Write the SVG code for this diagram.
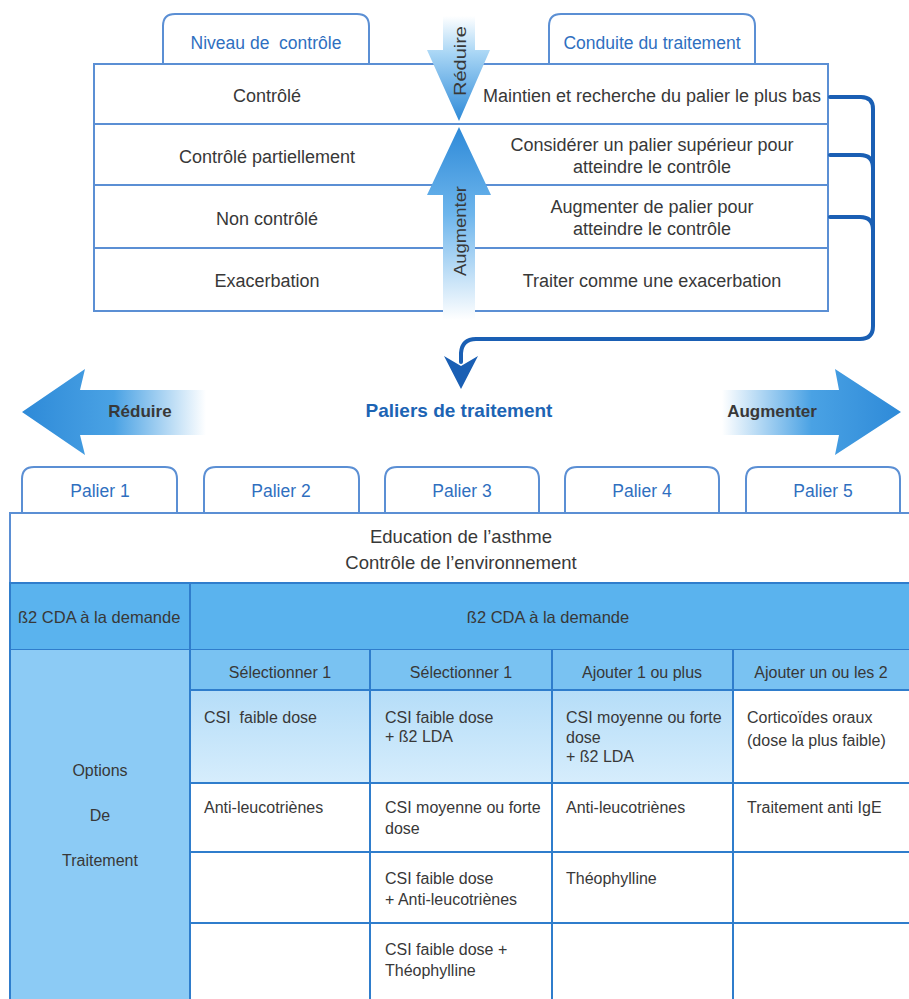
<svg xmlns="http://www.w3.org/2000/svg" width="909" height="999" viewBox="0 0 909 999">
<defs>
<style>
text{font-family:"Liberation Sans",Arial,sans-serif;fill:#383838;white-space:pre}
.t{font-size:18px}
.c{text-anchor:middle}
.tab{fill:#fff;stroke:#5b8fd4;stroke-width:2}
.tabt{font-size:17.5px;fill:#2f6fbf;text-anchor:middle}
.grid{stroke:#5b8fd4;stroke-width:2;fill:none}
.g2{stroke:#2f7dcc;stroke-width:2;fill:none}
.tb{font-size:16px}
.conn{stroke:#1a5fb4;stroke-width:4;fill:none;stroke-linecap:round}
.bold{font-weight:bold;font-size:17px}
</style>
<linearGradient id="gDown" x1="0" y1="0" x2="0" y2="1"><stop offset="0" stop-color="#ffffff"/><stop offset="0.35" stop-color="#a9d6f5"/><stop offset="1" stop-color="#2e8ad8"/></linearGradient>
<linearGradient id="gUp" x1="0" y1="0" x2="0" y2="1"><stop offset="0" stop-color="#2e8ad8"/><stop offset="0.45" stop-color="#6db5ec"/><stop offset="1" stop-color="#ffffff"/></linearGradient>
<linearGradient id="gLeft" x1="0" y1="0" x2="1" y2="0"><stop offset="0" stop-color="#2e8ad8"/><stop offset="0.5" stop-color="#4aa2e4"/><stop offset="1" stop-color="#ffffff"/></linearGradient>
<linearGradient id="gRight" x1="0" y1="0" x2="1" y2="0"><stop offset="0" stop-color="#ffffff"/><stop offset="0.5" stop-color="#4aa2e4"/><stop offset="1" stop-color="#2e8ad8"/></linearGradient>
<linearGradient id="gRow" x1="0" y1="0" x2="0" y2="1"><stop offset="0" stop-color="#b5ddf8"/><stop offset="1" stop-color="#d6edfc"/></linearGradient>
</defs>
<rect width="909" height="999" fill="#fff"/>

<!-- top table -->
<g id="tab-niveau"><path class="tab" d="M163 64 V26 Q163 14 175 14 H357 Q369 14 369 26 V64"/><text class="tabt" x="266" y="49">Niveau de  contrôle</text></g>
<g id="tab-conduite"><path class="tab" d="M549 64 V26 Q549 14 561 14 H743 Q755 14 755 26 V64"/><text class="tabt" x="652" y="49">Conduite du traitement</text></g>
<g id="top-table">
<rect class="grid" x="94" y="64" width="734" height="247" style="fill:#fff"/>
<line class="grid" x1="94" y1="124" x2="828" y2="124"/>
<line class="grid" x1="94" y1="185" x2="828" y2="185"/>
<line class="grid" x1="94" y1="248" x2="828" y2="248"/>
</g>
<g id="row-controle"><text class="t c" x="267" y="102">Contrôlé</text><text class="t c" x="652" y="102">Maintien et recherche du palier le plus bas</text></g>
<g id="row-partiel"><text class="t c" x="267" y="163">Contrôlé partiellement</text><text class="t c" x="652" y="151">Considérer un palier supérieur pour</text><text class="t c" x="652" y="173">atteindre le contrôle</text></g>
<g id="row-non"><text class="t c" x="267" y="225">Non contrôlé</text><text class="t c" x="652" y="213">Augmenter de palier pour</text><text class="t c" x="652" y="235">atteindre le contrôle</text></g>
<g id="row-exac"><text class="t c" x="267" y="287">Exacerbation</text><text class="t c" x="652" y="287">Traiter comme une exacerbation</text></g>

<g id="arrow-reduire"><polygon points="443,16 475,16 475,50 490,50 459,121 427,50 443,50" fill="url(#gDown)"/><text class="c" transform="translate(466,61) rotate(-90)" font-size="17" textLength="70" lengthAdjust="spacingAndGlyphs">Réduire</text></g>
<g id="arrow-augmenter"><polygon points="459,127 491,195 475,195 475,320 443,320 443,195 427,195" fill="url(#gUp)"/><text class="c" transform="translate(466,231) rotate(-90)" font-size="17" textLength="90" lengthAdjust="spacingAndGlyphs">Augmenter</text></g>

<!-- connectors -->
<g id="connectors">
<path class="conn" d="M830 97 H861 Q873 97 873 109 V326 Q873 339 860 339 H476 Q462 339 461 353 V362"/>
<path class="conn" d="M830 155 H860 Q873 155 873 168"/>
<path class="conn" d="M830 217 H860 Q873 217 873 230"/>
<polygon points="444,356 461,389 478,356 461,366" fill="#1a5fb4"/>
</g>

<!-- big arrows -->
<g id="big-reduire"><polygon points="22,412 85,369 80,390 206,390 206,435 80,435 85,455" fill="url(#gLeft)"/><text class="bold c" x="140" y="417">Réduire</text></g>
<g id="title"><text class="bold c" x="459" y="417" style="fill:#1c64b4;font-size:19px">Paliers de traitement</text></g>
<g id="big-augmenter"><polygon points="722,390 839,390 835,369 901,412 835,455 839,435 722,435" fill="url(#gRight)"/><text class="bold c" x="772" y="417">Augmenter</text></g>

<!-- palier tabs -->
<g id="palier1"><path class="tab" d="M22 513 V479 Q22 467 34 467 H165 Q177 467 177 479 V513"/><text class="tabt" x="100" y="497">Palier 1</text></g>
<g id="palier2"><path class="tab" d="M204 513 V479 Q204 467 216 467 H347 Q359 467 359 479 V513"/><text class="tabt" x="281" y="497">Palier 2</text></g>
<g id="palier3"><path class="tab" d="M385 513 V479 Q385 467 397 467 H527 Q539 467 539 479 V513"/><text class="tabt" x="462" y="497">Palier 3</text></g>
<g id="palier4"><path class="tab" d="M565 513 V479 Q565 467 577 467 H707 Q719 467 719 479 V513"/><text class="tabt" x="642" y="497">Palier 4</text></g>
<g id="palier5"><path class="tab" d="M746 513 V479 Q746 467 758 467 H888 Q900 467 900 479 V513"/><text class="tabt" x="823" y="497">Palier 5</text></g>

<!-- lower table -->
<g id="education"><rect x="10" y="513" width="902" height="70" class="grid" style="fill:#fff"/><text class="t c" x="461" y="543" style="font-size:18.5px">Education de l’asthme</text><text class="t c" x="461" y="569" style="font-size:18.5px">Contrôle de l’environnement</text></g>
<g id="b2-row"><rect x="10" y="583" width="902" height="67" class="g2" style="fill:#5ab3ee"/><line class="g2" x1="190" y1="583" x2="190" y2="650"/><text class="tb" x="18" y="623" style="font-size:16.5px">ß2 CDA à la demande</text><text class="tb c" x="548" y="623" style="font-size:16.5px">ß2 CDA à la demande</text></g>
<g id="options">
<rect x="10" y="650" width="180" height="352" fill="#8ccbf5"/>
<rect x="190" y="650" width="722" height="40" fill="#79c2f2"/>
<rect x="190" y="690" width="543" height="93" fill="url(#gRow)"/>
<rect x="733" y="690" width="179" height="93" fill="#fff"/>
<rect x="190" y="783" width="722" height="216" fill="#fff"/>
<path class="g2" d="M10 583 V999 M190 650 V999 M370 650 V999 M552 650 V999 M733 650 V999 M190 690 H909 M190 783 H909 M190 852 H909 M190 923 H909"/>
<text class="tb c" x="100" y="776">Options</text>
<text class="tb c" x="100" y="821">De</text>
<text class="tb c" x="100" y="866">Traitement</text>
</g>
<g id="col1"><text class="tb c" x="280" y="678">Sélectionner 1</text><text class="tb" x="204" y="723">CSI  faible dose</text><text class="tb" x="204" y="813">Anti-leucotriènes</text></g>
<g id="col2"><text class="tb c" x="461" y="678">Sélectionner 1</text><text class="tb" x="385" y="723">CSI faible dose</text><text class="tb" x="385" y="742">+ ß2 LDA</text><text class="tb" x="385" y="813">CSI moyenne ou forte</text><text class="tb" x="385" y="834">dose</text><text class="tb" x="385" y="884">CSI faible dose</text><text class="tb" x="385" y="905">+ Anti-leucotriènes</text><text class="tb" x="385" y="955">CSI faible dose +</text><text class="tb" x="385" y="976">Théophylline</text></g>
<g id="col3"><text class="tb c" x="642" y="678">Ajouter 1 ou plus</text><text class="tb" x="566" y="723">CSI moyenne ou forte</text><text class="tb" x="566" y="743">dose</text><text class="tb" x="566" y="762">+ ß2 LDA</text><text class="tb" x="566" y="813">Anti-leucotriènes</text><text class="tb" x="566" y="884">Théophylline</text></g>
<g id="col4"><text class="tb c" x="821" y="678">Ajouter un ou les 2</text><text class="tb" x="747" y="723">Corticoïdes oraux</text><text class="tb" x="747" y="746">(dose la plus faible)</text><text class="tb" x="747" y="813">Traitement anti IgE</text></g>
</svg>
